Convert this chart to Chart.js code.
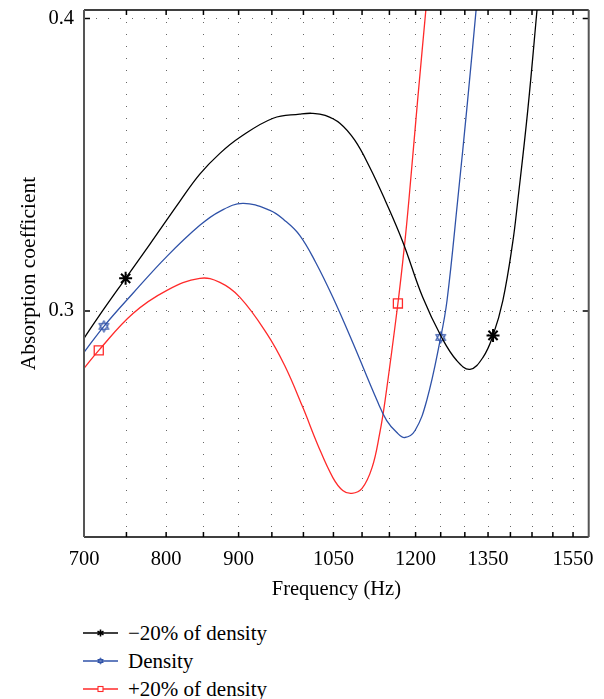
<!DOCTYPE html>
<html>
<head>
<meta charset="utf-8">
<script src="https://cdn.jsdelivr.net/npm/chart.js@4.4.1/dist/chart.umd.min.js"></script>
<style>
  html, body { margin: 0; padding: 0; background: #fff; }
  #wrap { position: relative; width: 604px; height: 699px; }
  #chartBox { position: absolute; left: 0; top: 0; width: 604px; height: 610px; }
  #legend { position: absolute; left: 83px; top: 619px; font-family: 'Liberation Serif', serif; font-size: 21px; color: #000; }
  .row { height: 28px; display: flex; align-items: center; white-space: nowrap; }
  .row svg { margin-right: 10px; }
</style>
</head>
<body>
<div id="wrap">
  <div id="chartBox"><canvas id="absChart"></canvas></div>
  <div id="legend"></div>
</div>
<script>
// x ticks every 50 Hz, only some labelled
const xTicks = [700, 750, 800, 850, 900, 950, 1000, 1050, 1100, 1150, 1200, 1250, 1300, 1350, 1400, 1450, 1500, 1550];
const xLabels = [700, 800, 900, 1050, 1200, 1350, 1550];
const yTicks = [0.3, 0.4];

// -20% of density
const lowFreq = [700, 717, 749, 779, 818, 845, 873, 902, 952, 994, 1014, 1036, 1061, 1087, 1114, 1142, 1175, 1214, 1252, 1283, 1311, 1339, 1361, 1383, 1405, 1417, 1440, 1464];
const lowAbs = [0.2907, 0.2982, 0.3112, 0.3228, 0.3375, 0.3468, 0.3539, 0.3594, 0.3659, 0.3673, 0.3676, 0.3669, 0.3642, 0.3584, 0.3491, 0.3379, 0.3238, 0.3047, 0.2910, 0.2831, 0.2801, 0.2842, 0.2917, 0.3037, 0.3232, 0.3379, 0.3686, 0.4063];
const lowMarks = [749, 1361];

// Density
const baseFreq = [700, 723, 758, 801, 845, 873, 906, 947, 970, 994, 1020, 1049, 1084, 1127, 1145, 1164, 1179, 1199, 1222, 1250, 1263, 1285, 1306, 1326];
const baseAbs = [0.2859, 0.2948, 0.3061, 0.3187, 0.3293, 0.3341, 0.3368, 0.3344, 0.3310, 0.3259, 0.3167, 0.3047, 0.2890, 0.2695, 0.2626, 0.2585, 0.2568, 0.2592, 0.2695, 0.2910, 0.3037, 0.3379, 0.3721, 0.4063];
const baseMarks = [723, 1250];

// +20% of density
const highFreq = [700, 717, 758, 801, 845, 873, 902, 942, 970, 999, 1024, 1049, 1066, 1082, 1100, 1118, 1132, 1142, 1166, 1179, 1187, 1204, 1222];
const highAbs = [0.2804, 0.2866, 0.2992, 0.3071, 0.3112, 0.3098, 0.3047, 0.2924, 0.2814, 0.2671, 0.2541, 0.2431, 0.2387, 0.2377, 0.2394, 0.2465, 0.2582, 0.2695, 0.3026, 0.3232, 0.3379, 0.3721, 0.4063];
const highMarks = [717, 1166];

const seriesNames = ['\u221220% of density', 'Density', '+20% of density'];
const BLACK = '#000000';
const BLUE = '#2f52a8';
const RED = '#ff2a2a';
const FONT = "'Liberation Serif', serif";

function hexagram(size, color) {
  const c = document.createElement('canvas');
  c.width = size; c.height = size;
  const g = c.getContext('2d');
  const r = size / 2 - 1, cx = size / 2, cy = size / 2;
  g.strokeStyle = color;
  g.lineWidth = 1.1;
  [-Math.PI / 2, Math.PI / 2].forEach(a0 => {
    g.beginPath();
    for (let k = 0; k < 3; k++) {
      const a = a0 + k * 2 * Math.PI / 3;
      g.lineTo(cx + r * Math.cos(a), cy + r * Math.sin(a));
    }
    g.closePath();
    g.stroke();
  });
  return c;
}

const toPoints = (xs, ys) => xs.map((x, i) => ({x: x, y: ys[i]}));
const marker = (marks, r) => ctx => (ctx.raw && marks.includes(ctx.raw.x) ? r : 0);

function series(label, xs, ys, marks, color, style, r) {
  return {
    label: label,
    data: toPoints(xs, ys),
    borderColor: color,
    backgroundColor: 'rgba(0,0,0,0)',
    borderWidth: 1.3,
    tension: 0.4,
    pointStyle: style,
    pointRadius: marker(marks, r),
    pointHoverRadius: 0,
    pointBorderColor: color,
    pointBorderWidth: style === 'star' ? 2 : 1.3,
    fill: false,
  };
}

const frame = {
  id: 'frame',
  afterDraw(chart) {
    const {ctx, chartArea: a, scales: {x, y}} = chart;
    ctx.save();
    ctx.strokeStyle = '#000';
    ctx.lineWidth = 1.5;
    ctx.beginPath();
    x.ticks.forEach(t => {
      const px = x.getPixelForValue(t.value);
      ctx.moveTo(px, a.bottom); ctx.lineTo(px, a.bottom - 5);
      ctx.moveTo(px, a.top); ctx.lineTo(px, a.top + 5);
    });
    y.ticks.forEach(t => {
      const py = y.getPixelForValue(t.value);
      ctx.moveTo(a.left, py); ctx.lineTo(a.left + 6, py);
      ctx.moveTo(a.right, py); ctx.lineTo(a.right - 6, py);
    });
    ctx.moveTo(a.left, a.top); ctx.lineTo(a.right, a.top);
    ctx.moveTo(a.left, a.bottom); ctx.lineTo(a.right, a.bottom);
    ctx.stroke();
    ctx.strokeStyle = '#555';
    ctx.lineWidth = 2;
    ctx.beginPath();
    ctx.moveTo(a.left, a.top); ctx.lineTo(a.left, a.bottom);
    ctx.moveTo(a.right, a.top); ctx.lineTo(a.right, a.bottom);
    ctx.stroke();
    ctx.restore();
  }
};

new Chart(document.getElementById('absChart'), {
  type: 'line',
  data: {
    datasets: [
      series(seriesNames[0], lowFreq, lowAbs, lowMarks, BLACK, 'star', 6.5),
      series(seriesNames[1], baseFreq, baseAbs, baseMarks, BLUE, hexagram(13, BLUE), 6),
      series(seriesNames[2], highFreq, highAbs, highMarks, RED, 'rect', 6.4),
    ],
  },
  options: {
    responsive: true,
    maintainAspectRatio: false,
    animation: false,
    layout: { padding: { top: 10, right: 15, left: 0, bottom: 0 } },
    scales: {
      x: {
        type: 'logarithmic',
        min: 700,
        max: 1590,
        afterBuildTicks: scale => { scale.ticks = xTicks.map(v => ({value: v})); },
        afterFit: scale => { scale.height = 73; },
        ticks: {
          autoSkip: false,
          maxRotation: 0,
          padding: 10,
          color: '#000',
          font: { family: FONT, size: 20.5 },
          callback: v => (xLabels.includes(v) ? String(v) : ''),
        },
        grid: { color: '#666', lineWidth: 1, drawTicks: false },
        border: { display: false, dash: [1, 11] },
        title: {
          display: true,
          text: 'Frequency (Hz)',
          color: '#000',
          font: { family: FONT, size: 20.5 },
          padding: { top: 0, bottom: 8 },
        },
      },
      y: {
        type: 'linear',
        min: 0.2228,
        max: 0.4029,
        afterBuildTicks: scale => { scale.ticks = yTicks.map(v => ({value: v})); },
        afterFit: scale => { scale.width = 84; scale.paddingTop = 0; scale.paddingBottom = 0; },
        ticks: {
          padding: 10,
          color: '#000',
          font: { family: FONT, size: 20.5 },
          callback: v => v.toFixed(1),
        },
        grid: { color: '#666', lineWidth: 1, drawTicks: false },
        border: { display: false, dash: [1, 11] },
        title: {
          display: true,
          text: 'Absorption coefficient',
          color: '#000',
          font: { family: FONT, size: 21.5 },
          padding: { top: 16, bottom: 0 },
        },
      },
    },
    plugins: {
      legend: { display: false },
      tooltip: { enabled: false },
    },
  },
  plugins: [frame],
});

// legend below the plot
const legendItems = [
  { name: seriesNames[0], color: BLACK, mark: '<path d="M17.5 5.5v7M14.5 7.2l6 3.6M14.5 10.8l6-3.6" stroke="#000" stroke-width="1.6"/>' },
  { name: seriesNames[1], color: BLUE, mark: '<path d="M17.5 5.8l2.7 4.7h-5.4zM17.5 12.2l2.7-4.7h-5.4z" fill="#fff" stroke="' + BLUE + '" stroke-width="1"/>' },
  { name: seriesNames[2], color: RED, mark: '<rect x="15" y="6.5" width="5" height="5" fill="#fff" stroke="' + RED + '" stroke-width="1.1"/>' },
];
document.getElementById('legend').innerHTML = legendItems.map(it =>
  '<div class="row"><svg width="35" height="18"><line x1="0" y1="9" x2="35" y2="9" stroke="' + it.color + '" stroke-width="1.5"/>' + it.mark + '</svg><span>' + it.name + '</span></div>'
).join('');
</script>
</body>
</html>
